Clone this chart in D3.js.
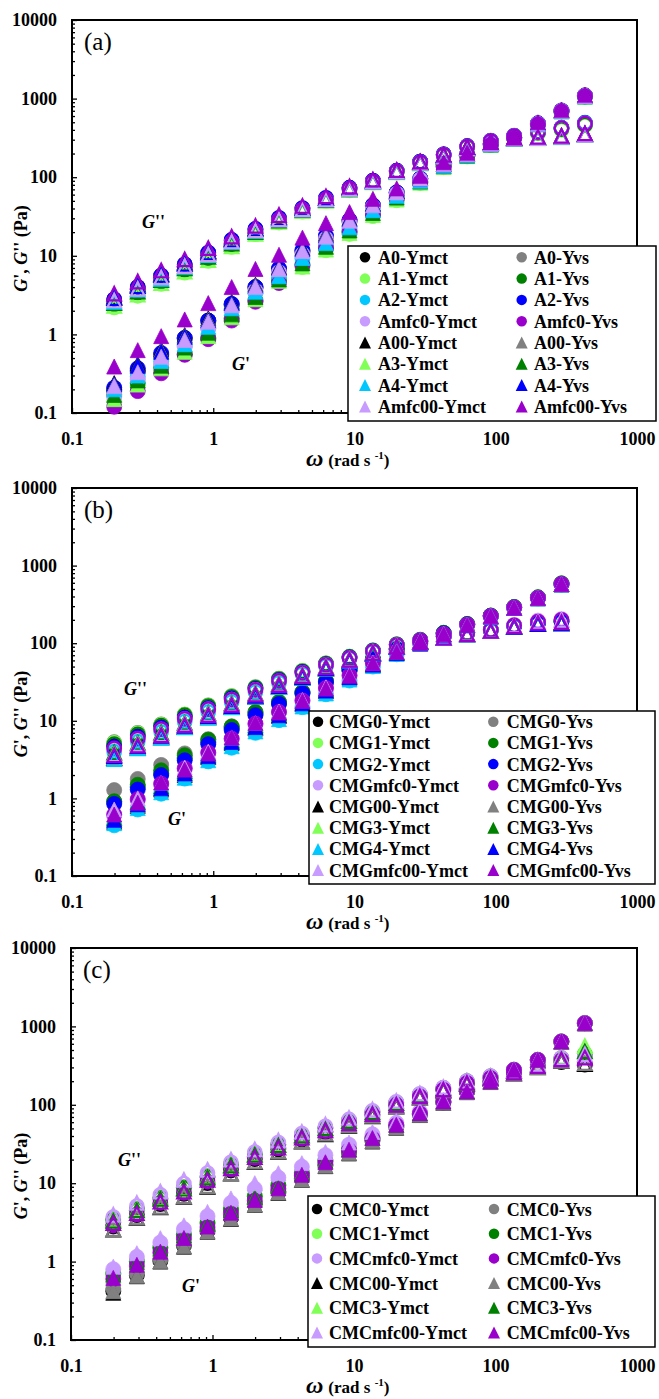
<!DOCTYPE html>
<html>
<head>
<meta charset="utf-8">
<script src="https://cdn.jsdelivr.net/npm/d3@7"></script>
<style>
body { margin: 0; background: #fff; }
svg { display: block; font-family: "Liberation Serif", "Times New Roman", serif; font-weight: bold; }
</style>
</head>
<body>
<svg id="chart" width="659" height="1399"></svg>
<script>
// angular frequency (rad/s)
var omegaA = [0.199,0.292,0.428,0.628,0.922,1.35,1.99,2.92,4.28,6.28,9.22,13.5,19.9,29.2,42.8,62.8,92.2,135,199,292,428];
var omegaB = [0.199,0.292,0.428,0.628,0.922,1.35,1.99,2.92,4.28,6.28,9.22,13.5,19.9,29.2,42.8,62.8,92.2,135,199,292];
var omegaC = omegaA;

var yTicks = [0.1, 1, 10, 100, 1000, 10000];
var xTicks = [0.1, 1, 10, 100, 1000];

// ---------- panel (a)
var namesA = ['A0-Ymct','A0-Yvs','A1-Ymct','A1-Yvs','A2-Ymct','A2-Yvs','Amfc0-Ymct','Amfc0-Yvs',
	'A00-Ymct','A00-Yvs','A3-Ymct','A3-Yvs','A4-Ymct','A4-Yvs','Amfc00-Ymct','Amfc00-Yvs'];
var gpA = [
	[0.20,0.35,0.55,0.90,1.5,2.4,4.0,6.8,11.5,17.5,28,44,64,96,146,196,268,322,485,705,1100],
	[0.19,0.33,0.53,0.88,1.45,2.35,3.9,6.6,11.2,17,27.5,43,63,95,145,195,266,320,482,700,1095],
	[0.14,0.22,0.35,0.58,0.92,1.6,2.7,4.6,7.2,11.8,19,32,51,84,134,184,256,314,468,688,1060],
	[0.17,0.24,0.38,0.56,0.90,1.6,2.7,4.9,7.8,12.8,20.5,34,54,87,137,187,259,315,470,690,1062],
	[0.19,0.29,0.45,0.72,1.2,2.1,3.4,5.4,9.2,14,22.5,37,57,89,139,189,261,317,474,690,1068],
	[0.21,0.37,0.58,0.90,1.5,2.45,4.0,6.9,11.8,18,28.5,44,64,96,146,196,267,321,484,704,1092],
	[0.16,0.27,0.42,0.70,1.2,2.0,3.6,6.2,10.5,16.5,27,42,62,94,144,194,264,318,478,698,1085],
	[0.12,0.19,0.32,0.55,0.87,1.5,2.6,4.5,7.5,12.5,20,33,53,86,136,186,258,314,470,690,1075],
	[0.24,0.42,0.64,0.98,1.6,2.6,4.3,7.2,12.5,19,30,46,66,98,148,198,270,325,490,710,1100],
	[0.23,0.40,0.62,0.95,1.55,2.5,4.2,7.0,12,18.5,29,45,65,97,147,197,268,322,485,705,1090],
	[0.15,0.23,0.37,0.60,0.95,1.65,2.8,4.8,7.3,12,19.5,33,52,85,135,185,258,315,470,690,1060],
	[0.17,0.26,0.40,0.68,1.05,1.8,3.0,5.0,8,13,21,35,55,88,138,188,260,316,472,692,1065],
	[0.20,0.30,0.46,0.75,1.25,2.15,3.5,5.5,9.4,14.5,23,38,58,90,140,190,262,318,475,690,1070],
	[0.23,0.40,0.60,0.93,1.5,2.5,4.1,7.0,12,18,29,45,65,96,146,196,268,322,485,705,1090],
	[0.22,0.33,0.52,0.85,1.45,2.35,4.0,6.8,11.5,17.5,28,44,64,96,146,196,266,320,480,700,1080],
	[0.39,0.63,0.95,1.55,2.5,4.0,6.8,10.3,17,26,36,53,72,104,155,205,278,330,500,720,1120]
];
var gppA = [
	[2.8,4.0,5.6,7.8,10.9,15.8,21.8,30,40,54,73,90,121,158,195,248,290,335,375,420,480],
	[2.7,3.9,5.5,7.7,10.8,15.7,21.6,30,40,54,73,90,121,158,195,248,292,338,380,425,490],
	[2.2,3.1,4.4,6.1,8.6,13,18.8,26.5,36.5,49.5,68,85,114,150,186,238,280,322,360,400,455],
	[2.4,3.4,4.7,6.6,9.3,14,19.8,27.8,37.8,51,70,87,117,153,190,243,285,328,368,410,465],
	[2.6,3.7,5.2,7.3,10.3,15.2,21,29,39,53,72,89,120,157,194,247,290,336,378,425,495],
	[2.8,4.0,5.6,7.8,11,16,22,30.5,40.5,54.5,73.5,90.5,121,158,195,248,291,337,379,424,490],
	[2.5,3.6,5.0,7.0,9.9,14.7,20.5,28.5,38.5,52,71,88,119,155,192,245,288,333,375,420,485],
	[2.6,3.7,5.1,7.1,10,14.8,20.6,28.8,38.8,52.5,71.5,88.5,119,155,192,245,288,333,375,420,480],
	[3.0,4.3,5.9,8.2,11.5,16.5,22.5,31,41,55,74,91,121,156,190,240,278,316,322,332,355],
	[2.9,4.2,5.8,8.0,11.2,16.2,22.2,30.5,40.5,54,73,90,120,155,189,238,276,314,320,330,352],
	[2.3,3.2,4.5,6.3,8.8,13.2,19,27,37,50,69,86,115,149,182,230,268,305,312,322,345],
	[2.5,3.5,4.9,6.9,9.7,14.3,20,28,38,51,70,87,117,151,184,233,270,308,314,324,347],
	[2.6,3.7,5.1,7.2,10.2,15,20.8,29,39,52,71,88,118,152,186,235,272,310,316,326,348],
	[2.9,4.1,5.7,7.9,11,16,22,30,40,54,73,90,120,155,189,238,276,314,320,330,352],
	[2.7,3.8,5.3,7.4,10.4,15.2,21,29,39,52,71,88,118,152,186,235,272,310,315,325,345],
	[3.3,4.7,6.5,9.0,12.5,17.5,24,33,43,57,76,93,123,158,192,242,280,318,325,335,360]
];

// ---------- panel (b)
var namesB = ['CMG0-Ymct','CMG0-Yvs','CMG1-Ymct','CMG1-Yvs','CMG2-Ymct','CMG2-Yvs','CMGmfc0-Ymct','CMGmfc0-Yvs',
	'CMG00-Ymct','CMG00-Yvs','CMG3-Ymct','CMG3-Yvs','CMG4-Ymct','CMG4-Yvs','CMGmfc00-Ymct','CMGmfc00-Yvs'];
var gpB = [
	[0.90,1.4,2.1,3.3,5.3,8.0,12.3,17,23,32,45,62,84,106,135,176,226,292,388,585],
	[1.28,1.78,2.7,3.8,5.8,8.5,12.8,17.5,23.5,32.5,45.5,63,85,107,136,177,227,293,390,590],
	[0.88,1.4,2.2,3.4,5.5,8.2,12.5,17.2,23,32,45,62,84,106,135,176,226,292,388,585],
	[0.92,1.5,2.3,3.6,5.7,8.4,13,17.5,23.5,32.5,45.5,63,85,107,136,177,227,293,390,590],
	[0.45,0.72,1.15,1.8,3.0,4.5,7.0,10.2,15,22,33,50,72,98,128,170,220,285,378,570],
	[0.85,1.3,2.0,3.1,5.0,7.6,11.8,16.5,22.5,31.5,44.5,61,83,105,134,175,225,290,385,580],
	[0.60,0.95,1.5,2.4,3.8,5.8,9,12.8,18,26,38,55,77,100,130,172,222,287,382,575],
	[0.62,0.98,1.55,2.45,3.9,5.9,9.2,13,18.3,26.5,38.5,56,78,101,131,173,223,288,383,578],
	[0.50,0.80,1.3,2.0,3.4,5.2,8.0,11.5,16.5,24,36,52,74,99,129,171,221,286,380,575],
	[0.52,0.82,1.32,2.05,3.45,5.3,8.1,11.6,16.6,24.2,36.2,52.5,74.5,99.5,129.5,171.5,221.5,286.5,381,576],
	[0.55,0.88,1.4,2.2,3.6,5.5,8.6,12.2,17.4,25,37,54,76,100,130,172,222,287,382,577],
	[0.56,0.90,1.42,2.22,3.62,5.55,8.7,12.4,17.6,25.3,37.3,54.3,76.3,100.3,130.3,172.3,222.3,287.3,382.3,578],
	[0.48,0.75,1.2,1.85,3.1,4.7,7.3,10.5,15.3,22.5,34,51,73,98,128,170,220,285,378,570],
	[0.53,0.84,1.35,2.1,3.5,5.35,8.3,11.8,16.8,24.5,36.5,53,75,99.5,129.5,171.5,221.5,286.5,381,576],
	[0.72,1.0,1.6,2.5,4.0,6.1,9.4,13.2,18.5,27,39,56,78,101,131,173,223,288,383,578],
	[0.62,0.88,1.6,2.35,3.8,6.1,9.4,12.8,18,26,38,55,77,100,130,172,222,287,382,577]
];
var gppB = [
	[4.8,6.5,8.5,11.5,15.2,20,26.5,34,43,54,66,80,96,110,122,135,148,168,184,190],
	[5.3,7.0,9.0,12,15.8,20.8,27.2,35,44,55,67,81,97,111,123,136,150,170,186,192],
	[5.2,6.9,8.9,12,15.7,20.7,27,34.8,44,55,67,81,97,111,123,136,150,170,186,192],
	[5.0,6.7,8.7,11.8,15.5,20.4,26.8,34.5,43.5,54.5,66.5,80.5,96.5,110.5,122.5,135.5,149,169,185,191],
	[4.0,5.4,7.2,9.8,13,17.5,23.5,31,40,51,63,77,93,107,120,133,146,166,182,188],
	[4.6,6.2,8.2,11,14.6,19.4,25.8,33.5,42.5,53.5,65.5,79.5,95.5,109.5,121.5,134.5,148,168,184,190],
	[4.3,5.8,7.7,10.5,14,18.7,25,32.5,41.5,52.5,64.5,78.5,94.5,108.5,121,134,149,172,195,205],
	[4.4,5.9,7.8,10.6,14.1,18.8,25.1,32.6,41.6,52.6,64.6,78.6,94.6,108.6,121,134,149,170,190,200],
	[3.3,4.5,6.1,8.3,11.1,15,20.5,27.5,36,47,59,73,89,104,117,130,143,162,176,180],
	[3.35,4.55,6.15,8.35,11.2,15.1,20.6,27.6,36.2,47.2,59.2,73.2,89.2,104,117,130,143,162,176,180],
	[3.8,5.1,6.9,9.3,12.4,16.7,22.5,29.8,38.5,49.5,61.5,75.5,91.5,105.5,118,131,144,164,178,182],
	[3.9,5.2,7.0,9.4,12.5,16.8,22.6,30,38.7,49.7,61.7,75.7,91.7,105.7,118.2,131.2,144.2,164.2,178.2,182.2],
	[3.2,4.4,6.0,8.2,11,14.9,20.4,27.4,35.9,46.9,58.9,72.9,88.9,104,117,130,143,162,176,180],
	[3.5,4.7,6.4,8.6,11.5,15.5,21,28,36.6,47.6,59.6,73.6,89.6,104.3,117.3,130.3,143.3,162.5,176.5,180.5],
	[3.7,5.0,6.7,9.1,12.2,16.4,22.2,29.5,38.2,49.2,61.2,75.2,91.2,105.2,118,131,144.5,168,190,200],
	[3.6,4.8,6.5,8.8,11.8,16,21.8,29,37.7,48.7,60.7,74.7,90.7,104.8,117.5,130.5,144,165,182,186]
];

// ---------- panel (c)
var namesC = ['CMC0-Ymct','CMC0-Yvs','CMC1-Ymct','CMC1-Yvs','CMCmfc0-Ymct','CMCmfc0-Yvs',
	'CMC00-Ymct','CMC00-Yvs','CMC3-Ymct','CMC3-Yvs','CMCmfc00-Ymct','CMCmfc00-Yvs'];
var gpC = [
	[0.42,0.67,1.02,1.6,2.45,3.6,5.4,7.7,11.3,17,24.5,35,52,75,107,146,196,278,372,640,1100],
	[0.45,0.70,1.06,1.65,2.5,3.7,5.5,7.8,11.5,17.2,24.8,35.5,52.5,75.5,107.5,146.5,196.5,278,373,642,1105],
	[0.72,1.02,1.52,2.22,3.15,4.7,6.9,9.5,13.6,19.6,27.2,38.2,55.3,78.2,110,148,198,280,375,642,1104],
	[0.70,1.0,1.5,2.2,3.1,4.6,6.8,9.4,13.5,19.5,27,38,55,78,110,148,198,280,375,642,1104],
	[0.80,1.15,1.75,2.6,3.8,5.6,8.5,11.8,16.2,22.8,31,42,59,82,113,150,200,281,376,644,1108],
	[0.60,0.88,1.3,1.95,2.75,4.1,6.0,8.5,12.6,18.7,26.4,37.2,55,77.5,109.5,147.5,197.5,279,374,640,1100],
	[0.40,0.65,1.0,1.55,2.4,3.5,5.3,7.5,11,16.5,24,34,51,74,106,145,195,276,370,635,1090],
	[0.42,0.66,1.01,1.57,2.42,3.55,5.35,7.6,11.1,16.7,24.2,34.5,51.5,74.5,106.5,145.5,195.5,277,371,637,1095],
	[0.65,0.95,1.42,2.1,2.95,4.4,6.5,9.1,13.2,19.2,26.8,37.8,55.5,78,110,148,198,280,375,642,1104],
	[0.68,0.98,1.46,2.15,3.02,4.5,6.6,9.2,13.3,19.3,27,38,55.5,78,110,148,198,280,375,642,1104],
	[0.86,1.28,1.99,2.9,4.3,6.4,10,13.4,18,25,33,45,62,85,115,152,202,282,378,645,1110],
	[0.62,0.91,1.34,2.0,2.8,4.2,6.1,8.6,12.8,18.5,26.7,37.6,55.6,78,110,148,198,280,375,642,1104]
];
var gppC = [
	[2.8,3.9,5.4,7.3,10,14.5,20.2,27,36,45,57,74,98,126,154,188,218,256,305,350,325],
	[3.5,4.7,6.6,8.9,12.3,17.3,23.5,31.5,41.5,51,63,82,107,136,164,200,231,272,330,395,420],
	[3.3,4.5,6.3,8.5,11.8,16.8,23,30.5,40.5,50,62,80,105,134,162,198,228,268,322,390,450],
	[3.4,4.6,6.4,8.7,12,17,23.3,31,41,50.5,62.5,81,106,135,163,199,230,270,326,392,440],
	[3.7,5.1,7.1,9.9,13.5,18.5,25,33,43,53,65,84,109,138,166,201,232,272,330,398,430],
	[2.9,4.0,5.6,7.5,10.5,15,21,28,37,46,58,75,99,127,155,189,219,255,305,370,330],
	[2.55,3.6,4.9,6.7,9,13.2,18.5,25,34,42,54,71,95,123,151,185,215,250,300,360,330],
	[2.6,3.65,5.0,6.8,9.2,13.4,18.8,25.5,34.5,43,55,72,96,124,152,186,216,252,302,362,340],
	[3.4,4.6,6.4,8.6,12,17,23.3,31,41,50.5,62.5,81,106,135,163,199,230,270,326,410,560],
	[3.3,4.5,6.3,8.5,11.8,16.8,23,30.5,40.5,50,62,80,105,134,162,198,228,268,322,395,480],
	[3.95,5.6,7.8,11,14.8,20,27,35,45,56,68,87,112,140,168,202,232,272,330,400,440],
	[3.1,4.15,5.8,7.8,11,15.5,21.5,28.5,38,47,58,76,100,128,156,190,220,258,312,380,400]
];

// marker colours / shapes
var C = { black:'#000000', grey:'#808080', lgreen:'#80ff57', green:'#008000',
	cyan:'#00c8ff', blue:'#0000ff', lav:'#c89bff', purple:'#9900cc' };
var colorsA = [C.black,C.grey,C.lgreen,C.green,C.cyan,C.blue,C.lav,C.purple,
	C.black,C.grey,C.lgreen,C.green,C.cyan,C.blue,C.lav,C.purple];
var shapesA = ['c','c','c','c','c','c','c','c','t','t','t','t','t','t','t','t'];
var colorsC = [C.black,C.grey,C.lgreen,C.green,C.lav,C.purple,C.black,C.grey,C.lgreen,C.green,C.lav,C.purple];
var shapesC = ['c','c','c','c','c','c','t','t','t','t','t','t'];

var svg = d3.select('#chart');
svg.append('rect').attr('width', 659).attr('height', 1399).attr('fill', '#fff');

function markerPath(shape, s) {
	if (shape === 'c') return d3.symbol(d3.symbolCircle, Math.PI * s * s / 4)();
	var h = s / 2;
	return 'M0,' + (-h) + 'L' + h + ',' + h + 'L' + (-h) + ',' + h + 'Z';
}

function minorValues(lo, hi) {
	var out = [];
	for (var d = lo; d < hi; d *= 10)
		for (var k = 2; k < 10; k++) out.push(d * k);
	return out;
}

function gLabel(sel, primes) {
	sel.append('tspan').attr('font-style', 'italic').text('G');
	sel.append('tspan').text(primes);
}

function drawPanel(p) {
	var x = d3.scaleLog().domain([0.1, 1000]).range([p.left, p.right]);
	var y = d3.scaleLog().domain([0.1, 10000]).range([p.bottom, p.top]);
	var g = svg.append('g').attr('class', 'panel');

	// minor ticks
	g.append('g').attr('transform', 'translate(0,' + p.bottom + ')')
		.call(d3.axisBottom(x).tickValues(minorValues(0.1, 1000)).tickSize(-3).tickFormat(''))
		.call(function (a) { a.select('.domain').remove(); });
	g.append('g').attr('transform', 'translate(' + p.left + ',0)')
		.call(d3.axisLeft(y).tickValues(minorValues(0.1, 10000)).tickSize(-3).tickFormat(''))
		.call(function (a) { a.select('.domain').remove(); });

	// major ticks + labels
	var xa = g.append('g').attr('transform', 'translate(0,' + p.bottom + ')')
		.call(d3.axisBottom(x).tickValues(xTicks).tickSizeInner(-5).tickSizeOuter(0).tickPadding(19).tickFormat(function (d) { return d; }));
	xa.select('.domain').remove();
	var ya = g.append('g').attr('transform', 'translate(' + p.left + ',0)')
		.call(d3.axisLeft(y).tickValues(yTicks).tickSizeInner(-5).tickSizeOuter(0).tickPadding(15).tickFormat(function (d) { return d; }));
	ya.select('.domain').remove();
	g.selectAll('.tick line').attr('stroke', '#000').attr('stroke-width', 1.3);
	g.selectAll('.tick text').attr('font-family', '"Liberation Serif", serif').attr('font-weight', 'bold')
		.attr('font-size', 18).attr('fill', '#000');

	// frame
	g.append('rect').attr('x', p.left).attr('y', p.top)
		.attr('width', p.right - p.left).attr('height', p.bottom - p.top)
		.attr('fill', 'none').attr('stroke', '#000').attr('stroke-width', 2);

	// data: filled = G', open = G''
	var pts = g.append('g');
	p.names.forEach(function (name, i) {
		var col = p.colors[i], shp = p.shapes[i];
		var rows = p.omega.map(function (w, j) { return { w: w, gp: p.gp[i][j], gpp: p.gpp[i][j] }; });
		pts.append('g').selectAll('path').data(rows).enter().append('path')
			.attr('d', markerPath(shp, 15))
			.attr('transform', function (d) { return 'translate(' + x(d.w) + ',' + y(d.gp) + ')'; })
			.attr('fill', col).attr('stroke', col).attr('stroke-width', 0.8);
		pts.append('g').selectAll('path').data(rows).enter().append('path')
			.attr('d', markerPath(shp, 13.5))
			.attr('transform', function (d) { return 'translate(' + x(d.w) + ',' + y(d.gpp) + ')'; })
			.attr('fill', 'none').attr('stroke', col).attr('stroke-width', 2.2);
	});

	// panel letter
	g.append('text').attr('x', p.left + 12).attr('y', p.top + 30)
		.attr('font-size', 25).attr('font-weight', 'normal').text(p.letter);

	// G'' / G' annotations
	gLabel(g.append('text').attr('x', x(p.gppAt[0])).attr('y', y(p.gppAt[1])).attr('font-size', 18), "''");
	gLabel(g.append('text').attr('x', x(p.gpAt[0])).attr('y', y(p.gpAt[1])).attr('font-size', 18), "'");

	// y title
	var yt = g.append('text').attr('text-anchor', 'middle').attr('font-size', 18)
		.attr('transform', 'translate(27,' + ((p.top + p.bottom) / 2 + 32) + ') rotate(-90)');
	gLabel(yt, "', ");
	gLabel(yt, "'' (Pa)");

	// x title
	var xt = g.append('text').attr('x', 306).attr('y', p.bottom + 53).attr('font-size', 17);
	xt.append('tspan').attr('font-style', 'italic').attr('font-size', 24).text('\u03c9');
	xt.append('tspan').attr('dx', 5).text('(rad s ');
	xt.append('tspan').attr('dy', -7).attr('font-size', 11).text('-1');
	xt.append('tspan').attr('dy', 7).text(')');

	// legend
	var L = p.legend;
	var lg = g.append('g');
	lg.append('rect').attr('x', L.x0).attr('y', L.y0).attr('width', L.x1 - L.x0).attr('height', L.y1 - L.y0)
		.attr('fill', '#fff').attr('stroke', '#000').attr('stroke-width', 1.5);
	var items = lg.selectAll('g.item').data(p.names).enter().append('g').attr('class', 'item')
		.attr('transform', function (d, i) { return 'translate(0,' + (L.row0 + Math.floor(i / 2) * L.step) + ')'; });
	items.append('path')
		.attr('d', function (d, i) { return markerPath(p.shapes[i], p.shapes[i] === 'c' ? 10.5 : 12); })
		.attr('transform', function (d, i) { return 'translate(' + L.sym[i % 2] + ',0)'; })
		.attr('fill', function (d, i) { return p.colors[i]; });
	items.append('text').attr('x', function (d, i) { return L.txt[i % 2]; }).attr('y', 6.5)
		.attr('font-size', 18).text(function (d) { return d; });
}

drawPanel({ letter: '(a)', left: 72, right: 637, top: 20, bottom: 413,
	omega: omegaA, names: namesA, gp: gpA, gpp: gppA, colors: colorsA, shapes: shapesA,
	gppAt: [0.313, 22.6], gpAt: [1.36, 0.35],
	legend: { x0: 348, x1: 656, y0: 246, y1: 421, row0: 257.3, step: 21.3, sym: [365, 521.7], txt: [378, 534] } });

drawPanel({ letter: '(b)', left: 72, right: 637, top: 488, bottom: 876,
	omega: omegaB, names: namesB, gp: gpB, gpp: gppB, colors: colorsA, shapes: shapesA,
	gppAt: [0.233, 21.5], gpAt: [0.479, 0.454],
	legend: { x0: 309, x1: 655, y0: 711, y1: 884, row0: 721.7, step: 21.2, sym: [318, 493.3], txt: [329, 506.7] } });

drawPanel({ letter: '(c)', left: 71, right: 637, top: 948, bottom: 1340,
	omega: omegaC, names: namesC, gp: gpC, gpp: gppC, colors: colorsC, shapes: shapesC,
	gppAt: [0.215, 16.6], gpAt: [0.609, 0.41],
	legend: { x0: 308, x1: 655, y0: 1196, y1: 1347, row0: 1209, step: 24.7, sym: [317, 494], txt: [329, 506.7] } });
</script>
</body>
</html>
